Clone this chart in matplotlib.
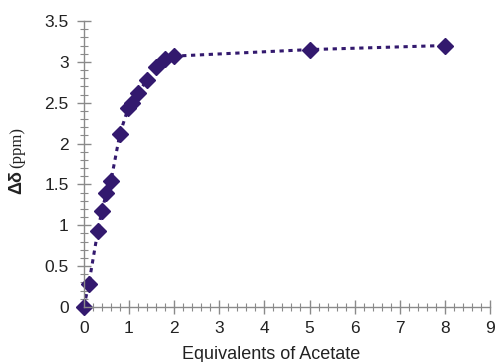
import matplotlib
matplotlib.use('Agg')
import matplotlib.pyplot as plt
from matplotlib.ticker import MultipleLocator

# equivalents of acetate vs chemical shift change
equiv = [0, 0.11, 0.31, 0.40, 0.50, 0.60, 0.80, 0.98, 1.06, 1.20, 1.40, 1.60, 1.80, 2.00, 5.00, 8.00]
delta = [0, 0.28, 0.93, 1.18, 1.39, 1.54, 2.12, 2.43, 2.50, 2.62, 2.78, 2.94, 3.04, 3.07, 3.15, 3.20]

color = '#33196e'
grey = '#8a8a8a'

plt.rcParams['font.family'] = ['Liberation Sans', 'DejaVu Sans']

fig = plt.figure(figsize=(4.96, 3.62), dpi=100)
ax = fig.add_axes([0.169, 0.152, 0.819, 0.790])

ax.plot(equiv, delta, linestyle=(0, (1.4, 1.5)), linewidth=2.2, color=color,
        marker='D', markersize=8.5, markerfacecolor=color, markeredgecolor=color,
        clip_on=False)

ax.set_xlim(0, 9)
ax.set_ylim(0, 3.5)
ax.xaxis.set_major_locator(MultipleLocator(1))
ax.xaxis.set_minor_locator(MultipleLocator(0.2))
ax.yaxis.set_minor_locator(MultipleLocator(0.1))
ax.set_yticks([0, 0.5, 1, 1.5, 2, 2.5, 3, 3.5])
ax.set_yticklabels(['0', '0.5', '1', '1.5', '2', '2.5', '3', '3.5'])

ax.tick_params(which='major', direction='inout', length=10, width=1, color=grey,
               labelsize=12.5, labelcolor='#222222')
ax.tick_params(which='minor', direction='inout', length=6, width=0.8, color=grey)
ax.tick_params(axis='y', pad=6)
ax.tick_params(axis='x', pad=5)

for spine in ['top', 'right']:
    ax.spines[spine].set_visible(False)
for spine in ['bottom', 'left']:
    ax.spines[spine].set_color(grey)
    ax.spines[spine].set_linewidth(1)

ax.set_xlabel('Equivalents of Acetate', fontsize=13, color='#222222')
ax.xaxis.set_label_coords(0.46, -0.135)

# y label: bold delta symbols, serif unit
fig.text(0.034, 0.497, 'Δδ', rotation=90, ha='center', va='center',
         fontsize=13, fontweight='bold', color='#222222')
fig.text(0.034, 0.592, '(ppm)', rotation=90, ha='center', va='center',
         fontsize=12, family='Liberation Serif', color='#222222')

fig.savefig('out.png', dpi=100)
